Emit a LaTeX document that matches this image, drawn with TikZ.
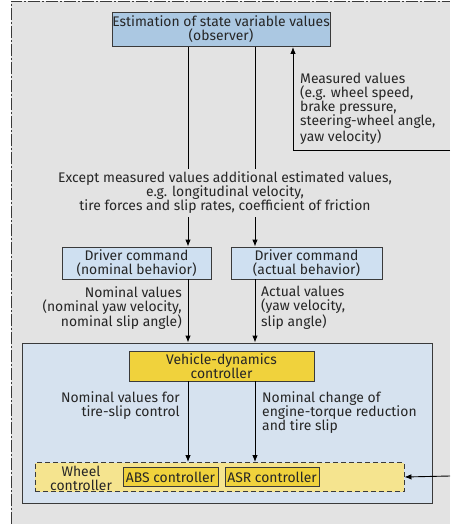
\documentclass[tikz,border=0pt]{standalone}
\usepackage{fontspec}
\setmainfont{Fira Sans}
\usetikzlibrary{arrows.meta,calc}
\definecolor{bggray}{HTML}{E3E3E3}
\definecolor{obsblue}{HTML}{ABC8E2}
\definecolor{drvblue}{HTML}{CFE0F1}
\definecolor{bigblue}{HTML}{D6E2EF}
\definecolor{vdcyellow}{HTML}{F0D23C}
\definecolor{wcyellow}{HTML}{F5E48F}
\definecolor{edge}{HTML}{3A3A3A}
\begin{document}
\begin{tikzpicture}[x=1pt,y=-1pt,
  every node/.style={font=\fontsize{13.9}{14}\selectfont, text=black!85},
  box/.style={draw=edge, line width=0.9pt, inner sep=0pt, align=center},
  lbl/.style={inner sep=0pt},
  arr/.style={line width=0.9pt, -{Latex[length=7pt,width=5.5pt]}},
  ln/.style={line width=0.9pt}]
\useasboundingbox (0,0) rectangle (450,524);
\fill[bggray] (11,1) rectangle (450,524);
\draw[edge, line width=0.8pt, dash pattern=on 12pt off 2pt on 2pt off 2pt] (11,524) -- (11,1) -- (450,1);

\coordinate (xl) at (188,0);
\coordinate (xr) at (255,0);
\coordinate (xm) at (293,0);
\coordinate (rin1) at (450,150);
\coordinate (rin2) at (450,476);

\node[box, fill=obsblue, minimum width=218pt, minimum height=34pt] (obs) at (221,29.5) {Estimation of state variable values\\(observer)};
\node[box, fill=drvblue, minimum width=149pt, minimum height=32pt] (dn) at (136.5,263) {Driver command\\(nominal behavior)};
\node[box, fill=drvblue, minimum width=151pt, minimum height=32pt] (da) at (306.5,263) {Driver command\\(actual behavior)};
\node[box, fill=bigblue, minimum width=410pt, minimum height=160pt] (big) at (227,423) {};
\node[box, fill=vdcyellow, minimum width=185pt, minimum height=30pt] (vdc) at (221.5,366) {Vehicle-dynamics\\controller};
\node[box, fill=wcyellow, dashed, dash pattern=on 5pt off 3pt, minimum width=369pt, minimum height=29pt] (wc) at (219.5,477) {};
\node[box, fill=vdcyellow, minimum width=95pt, minimum height=19pt] (abs) at (170.5,477) {ABS controller};
\node[box, fill=vdcyellow, minimum width=94pt, minimum height=19pt] (asr) at (272,477) {ASR controller};
\node[lbl, align=center] (wct) at (81,478) {Wheel\\controller};

% observer to driver boxes
\draw[arr] (obs.south -| xl) -- (dn.north -| xl);
\draw[arr] (obs.south -| xr) -- (da.north -| xr);
\node[lbl, align=center, fill=bggray, inner ysep=3pt] (mid) at (225,193) {Except measured values additional estimated values,\\e.g. longitudinal velocity,\\tire forces and slip rates, coefficient of friction};

% measured values
\draw[arr] (rin1) -| (obs.south -| xm);
\node[lbl, align=left, anchor=north west] (meas) at (300,73) {Measured values\\(e.g. wheel speed,\\brake pressure,\\steering-wheel angle,\\yaw velocity)};

% driver boxes to big box
\draw[arr] (dn.south -| xl) -- (big.north -| xl);
\draw[arr] (da.south -| xr) -- (big.north -| xr);
\node[lbl, align=right, anchor=north east] (nomv) at (182,286) {Nominal values\\(nominal yaw velocity,\\nominal slip angle)};
\node[lbl, align=left, anchor=north west] (actv) at (261,286) {Actual values\\(yaw velocity,\\slip angle)};

% vdc to wheel controller
\draw[arr] (vdc.south -| xl) -- (wc.north -| xl);
\draw[arr] (vdc.south -| xr) -- (wc.north -| xr);
\node[lbl, align=right, anchor=north east] (tsc) at (180,391) {Nominal values for\\tire-slip control};
\node[lbl, align=left, anchor=north west] (etr) at (262,391) {Nominal change of\\engine-torque reduction\\and tire slip};

\draw[arr] (rin2) -- (wc.east);
\end{tikzpicture}
\end{document}
